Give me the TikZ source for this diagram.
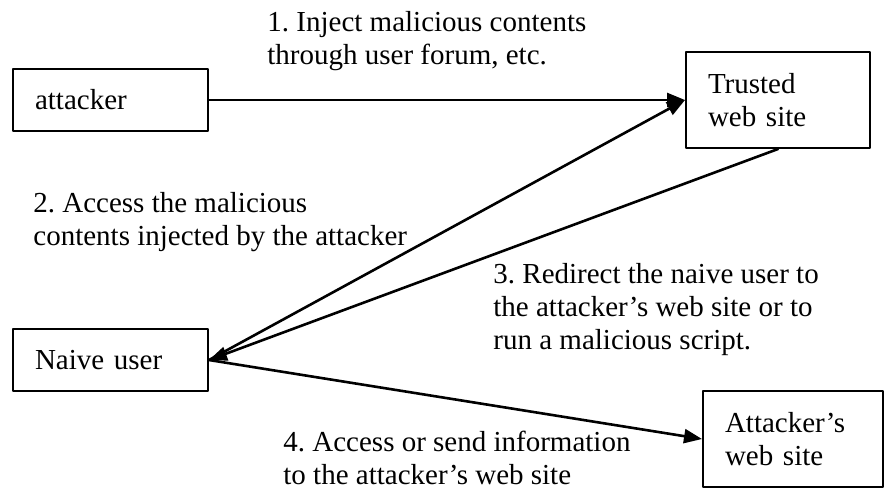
\documentclass[tikz,border=0pt]{standalone}
\usepackage{fontspec}
\setmainfont{Liberation Serif}
\frenchspacing
\usetikzlibrary{arrows.meta}
\begin{document}
\begin{tikzpicture}[x=0.5pt,y=-0.5pt,line cap=round,line join=round,
  font=\fontsize{14.5}{16.5}\selectfont,
  box/.style={draw,line width=1pt,inner xsep=11pt,inner ysep=0pt,align=left,text width=#1},
  lbl/.style={align=left,inner sep=0pt,anchor=base west},
  arr/.style={-{Triangle[length=9pt,width=7pt]},line width=1.3pt}]
\useasboundingbox (0,0) rectangle (887,489);
\node[box=75.5pt,minimum height=31pt] (attacker) at (110.5,100) {attacker};
\node[box=75.5pt,minimum height=31pt] (naive) at (110.5,360) {Naive user};
\node[box=70pt,minimum height=48pt] (trusted) at (778,100) {Trusted\\web site};
\node[box=68pt,minimum height=48pt] (badsite) at (793,439) {Attacker's\\web site};
\draw[arr] (attacker) -- (trusted.west);
\draw[arr] (naive.east) -- (trusted.west);
\draw[arr] (trusted.south) -- (naive.east);
\draw[arr] (naive.east) -- (badsite.west);
% labels are placed by the baseline of their last line
\node[lbl] (step1) at (267,64) {1. Inject malicious contents\\through user forum, etc.};
\node[lbl] (step2) at (33,245) {2. Access the malicious\\contents injected by the attacker};
\node[lbl] (step3) at (493,349) {3. Redirect the naive user to\\the attacker's web site or to\\run a malicious script.};
\node[lbl] (step4) at (283,484) {4. Access or send information\\to the attacker's web site};
\end{tikzpicture}
\end{document}
